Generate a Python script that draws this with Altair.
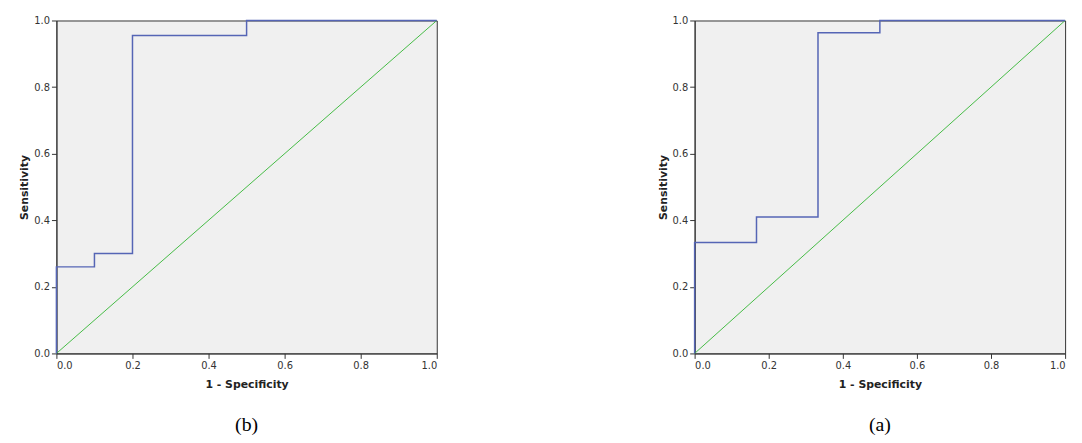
import altair as alt
import pandas as pd

# ROC steps
b_fpr = [0.0, 0.0, 0.1, 0.1, 0.2, 0.2, 0.5, 0.5, 1.0]
b_tpr = [0.0, 0.26, 0.26, 0.30, 0.30, 0.955, 0.955, 1.0, 1.0]
a_fpr = [0.0, 0.0, 0.167, 0.167, 0.333, 0.333, 0.5, 0.5, 1.0]
a_tpr = [0.0, 0.333, 0.333, 0.41, 0.41, 0.963, 0.963, 1.0, 1.0]
diag = [0.0, 1.0]
ticks = [0.0, 0.2, 0.4, 0.6, 0.8, 1.0]


def roc_panel(fpr, tpr, caption, width):
    curve = pd.DataFrame({"x": fpr, "y": tpr, "order": range(len(fpr))})
    ref = pd.DataFrame({"x": diag, "y": diag})
    xs = alt.Scale(domain=[0, 1], nice=False)
    ys = alt.Scale(domain=[0, 1], nice=False)
    line = alt.Chart(curve).mark_line(color="#5565b5", strokeWidth=1.5).encode(
        x=alt.X("x:Q", scale=xs, title="1 - Specificity",
                axis=alt.Axis(values=ticks, format=".1f", grid=False, titlePadding=8)),
        y=alt.Y("y:Q", scale=ys, title="Sensitivity",
                axis=alt.Axis(values=ticks, format=".1f", grid=False)),
        order="order:Q",
    )
    diagonal = alt.Chart(ref).mark_line(color="#44bb44", strokeWidth=1).encode(x="x:Q", y="y:Q")
    return alt.layer(diagonal, line).properties(
        width=width, height=337,
        title=alt.TitleParams(caption, orient="bottom", font="Liberation Serif",
                              fontSize=20, fontWeight="normal", offset=26),
    )


chart = alt.hconcat(
    roc_panel(b_fpr, b_tpr, "(b)", 385),
    roc_panel(a_fpr, a_tpr, "(a)", 375),
    spacing=218,
).configure_view(fill="#f0f0f0", stroke="#333333").configure_axis(
    labelFont="DejaVu Sans", labelFontSize=10, titleFont="DejaVu Sans",
    titleFontSize=11, titleFontWeight="bold", domainColor="#333333",
    tickColor="#333333", labelColor="#333333", titleColor="#222222",
).properties(padding={"left": 10, "top": 4, "right": 5, "bottom": 5})

chart.save("out.html", embed_options={"renderer": "svg", "actions": False})
